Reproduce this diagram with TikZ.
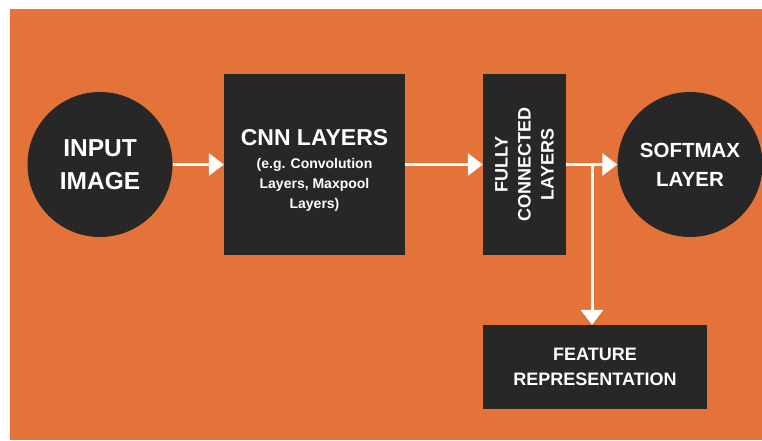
\documentclass[tikz,border=0pt]{standalone}
\usepackage{fontspec}
\setmainfont{Liberation Sans}
\usetikzlibrary{arrows.meta}
\definecolor{bgorange}{RGB}{227,115,56}
\definecolor{boxdark}{RGB}{39,39,39}

\begin{document}
\begin{tikzpicture}[x=1pt, y=-1pt,
    layer/.style={rectangle, fill=boxdark, text=white, align=center, inner sep=0pt},
    ball/.style={circle, fill=boxdark, text=white, align=center, inner sep=0pt, minimum size=145},
    flow/.style={->, >={Triangle[length=15pt, width=22pt]}, draw=white, line width=3pt}]
  \useasboundingbox (0,0) rectangle (762,440);
  \fill[white] (0,0) rectangle (762,440);
  \fill[bgorange] (10,9) rectangle (762,440);

  \node[ball, font=\bfseries\fontsize{24.5}{33}\selectfont] (input) at (100,164.5) {INPUT\\IMAGE};

  \node[layer, minimum width=181, minimum height=181, font=\bfseries\fontsize{14}{20}\selectfont] (cnn) at (314.5,164.5) {
    \rule{0pt}{27pt}{\fontsize{23}{23}\selectfont CNN LAYERS}\\[3pt]
    (e.g. Convolution\\Layers, Maxpool\\Layers)
  };

  \node[layer, minimum width=83, minimum height=181] (fc) at (524.5,164.5) {};
  \node[rotate=90, text=white, align=center, font=\bfseries\fontsize{18}{23}\selectfont] (fctext) at (fc.center) {FULLY\\CONNECTED\\LAYERS};

  \node[ball, font=\bfseries\fontsize{20.5}{29}\selectfont] (soft) at (690,164.5) {SOFTMAX\\LAYER};

  \node[layer, minimum width=224, minimum height=84, font=\bfseries\fontsize{18}{25}\selectfont] (feat) at (595,367) {FEATURE\\REPRESENTATION};

  \draw[flow] (input) -- (cnn);
  \draw[flow] (cnn) -- (fc);
  \draw[flow] (fc) -- (soft);
  \coordinate (split) at (592,164.5);
  \draw[flow] (split) -- (split |- feat.north);
\end{tikzpicture}
\end{document}
